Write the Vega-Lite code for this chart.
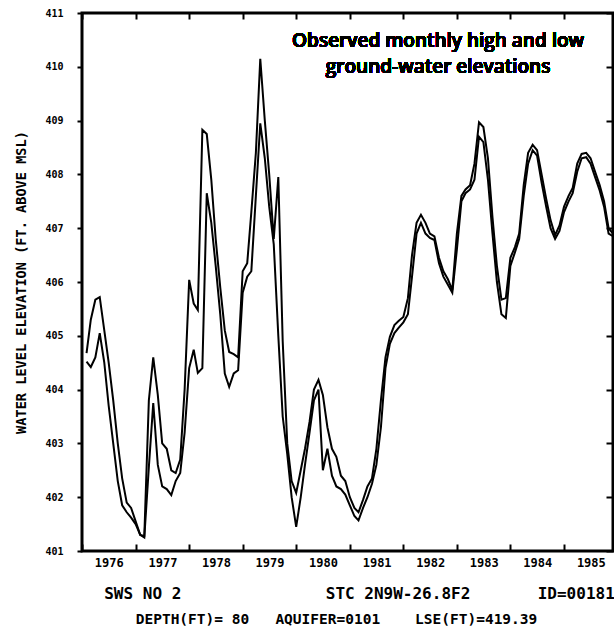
{
  "$schema": "https://vega.github.io/schema/vega-lite/v6.json",
  "width": 531,
  "height": 538,
  "autosize": {"type": "none"},
  "padding": {"left": 82, "top": 13, "right": 1, "bottom": 79},
  "background": "white",
  "config": {"view": {"stroke": "black", "strokeWidth": 3}},
  "title": {
    "text": "\u2800\u2800SWS NO 2\u00a0\u00a0\u00a0\u00a0\u00a0\u00a0\u00a0\u00a0\u00a0\u00a0\u00a0\u00a0\u00a0\u00a0\u00a0STC 2N9W-26.8F2\u00a0\u00a0\u00a0\u00a0\u00a0\u00a0\u00a0ID=00181",
    "subtitle": "DEPTH(FT)=\u00a080\u00a0\u00a0\u00a0AQUIFER=0101\u00a0\u00a0\u00a0\u00a0LSE(FT)=419.39\u2800\u2800",
    "orient": "bottom",
    "anchor": "middle",
    "font": "DejaVu Sans Mono",
    "fontSize": 16,
    "fontWeight": "bold",
    "color": "black",
    "subtitleFont": "DejaVu Sans Mono",
    "subtitleFontSize": 14.5,
    "subtitleFontWeight": "bold",
    "subtitleColor": "black",
    "subtitlePadding": 11,
    "offset": 18
  },
  "data": {
    "values": [
      {"date": "1976-02-01", "High": 404.68, "Low": 404.52},
      {"date": "1976-03-01", "High": 405.3, "Low": 404.42},
      {"date": "1976-04-01", "High": 405.67, "Low": 404.6},
      {"date": "1976-05-01", "High": 405.72, "Low": 405.05},
      {"date": "1976-06-01", "High": 405.1, "Low": 404.5},
      {"date": "1976-07-01", "High": 404.5, "Low": 403.7},
      {"date": "1976-08-01", "High": 403.8, "Low": 403.0},
      {"date": "1976-09-01", "High": 403.0, "Low": 402.3},
      {"date": "1976-10-01", "High": 402.35, "Low": 401.85},
      {"date": "1976-11-01", "High": 401.9, "Low": 401.72},
      {"date": "1976-12-01", "High": 401.8, "Low": 401.62},
      {"date": "1977-01-01", "High": 401.55, "Low": 401.5},
      {"date": "1977-02-01", "High": 401.3, "Low": 401.3},
      {"date": "1977-03-01", "High": 401.28, "Low": 401.25},
      {"date": "1977-04-01", "High": 403.8, "Low": 402.56},
      {"date": "1977-05-01", "High": 404.6, "Low": 403.75},
      {"date": "1977-06-01", "High": 403.9, "Low": 402.6},
      {"date": "1977-07-01", "High": 403.0, "Low": 402.2},
      {"date": "1977-08-01", "High": 402.9, "Low": 402.15},
      {"date": "1977-09-01", "High": 402.5, "Low": 402.04},
      {"date": "1977-10-01", "High": 402.45, "Low": 402.3},
      {"date": "1977-11-01", "High": 402.7, "Low": 402.45},
      {"date": "1977-12-01", "High": 404.0, "Low": 403.2},
      {"date": "1978-01-01", "High": 406.04, "Low": 404.4},
      {"date": "1978-02-01", "High": 405.6, "Low": 404.74},
      {"date": "1978-03-01", "High": 405.48, "Low": 404.31},
      {"date": "1978-04-01", "High": 408.83, "Low": 404.4},
      {"date": "1978-05-01", "High": 408.75, "Low": 407.65},
      {"date": "1978-06-01", "High": 407.9, "Low": 407.1},
      {"date": "1978-07-01", "High": 406.8, "Low": 406.3},
      {"date": "1978-08-01", "High": 405.9, "Low": 405.4},
      {"date": "1978-09-01", "High": 405.1, "Low": 404.3},
      {"date": "1978-10-01", "High": 404.7, "Low": 404.05},
      {"date": "1978-11-01", "High": 404.66, "Low": 404.3},
      {"date": "1978-12-01", "High": 404.6, "Low": 404.36},
      {"date": "1979-01-01", "High": 406.2, "Low": 405.8},
      {"date": "1979-02-01", "High": 406.35, "Low": 406.1},
      {"date": "1979-03-01", "High": 407.3, "Low": 406.2},
      {"date": "1979-04-01", "High": 408.4, "Low": 407.6},
      {"date": "1979-05-01", "High": 410.15, "Low": 408.95},
      {"date": "1979-06-01", "High": 409.0, "Low": 408.3},
      {"date": "1979-07-01", "High": 408.0, "Low": 407.4},
      {"date": "1979-08-01", "High": 406.8, "Low": 406.7},
      {"date": "1979-09-01", "High": 407.95, "Low": 405.0},
      {"date": "1979-10-01", "High": 404.9, "Low": 403.5},
      {"date": "1979-11-01", "High": 403.0, "Low": 402.8},
      {"date": "1979-12-01", "High": 402.3, "Low": 402.0},
      {"date": "1980-01-01", "High": 402.08, "Low": 401.45},
      {"date": "1980-02-01", "High": 402.5, "Low": 402.0},
      {"date": "1980-03-01", "High": 402.9, "Low": 402.6},
      {"date": "1980-04-01", "High": 403.4, "Low": 403.2},
      {"date": "1980-05-01", "High": 404.0, "Low": 403.8},
      {"date": "1980-06-01", "High": 404.18, "Low": 404.0},
      {"date": "1980-07-01", "High": 403.9, "Low": 402.5},
      {"date": "1980-08-01", "High": 403.3, "Low": 402.9},
      {"date": "1980-09-01", "High": 402.9, "Low": 402.4},
      {"date": "1980-10-01", "High": 402.75, "Low": 402.2},
      {"date": "1980-11-01", "High": 402.4, "Low": 402.15},
      {"date": "1980-12-01", "High": 402.3, "Low": 402.05},
      {"date": "1981-01-01", "High": 402.0, "Low": 401.85},
      {"date": "1981-02-01", "High": 401.8, "Low": 401.65},
      {"date": "1981-03-01", "High": 401.72, "Low": 401.57},
      {"date": "1981-04-01", "High": 401.95, "Low": 401.8},
      {"date": "1981-05-01", "High": 402.2, "Low": 402.0},
      {"date": "1981-06-01", "High": 402.35, "Low": 402.25},
      {"date": "1981-07-01", "High": 402.9, "Low": 402.6},
      {"date": "1981-08-01", "High": 403.8, "Low": 403.3},
      {"date": "1981-09-01", "High": 404.6, "Low": 404.4},
      {"date": "1981-10-01", "High": 404.98, "Low": 404.85},
      {"date": "1981-11-01", "High": 405.2, "Low": 405.05},
      {"date": "1981-12-01", "High": 405.28, "Low": 405.15},
      {"date": "1982-01-01", "High": 405.35, "Low": 405.25},
      {"date": "1982-02-01", "High": 405.7, "Low": 405.4},
      {"date": "1982-03-01", "High": 406.5, "Low": 406.1},
      {"date": "1982-04-01", "High": 407.1, "Low": 406.9},
      {"date": "1982-05-01", "High": 407.25, "Low": 407.1},
      {"date": "1982-06-01", "High": 407.1, "Low": 406.9},
      {"date": "1982-07-01", "High": 406.9, "Low": 406.82},
      {"date": "1982-08-01", "High": 406.85, "Low": 406.78},
      {"date": "1982-09-01", "High": 406.45, "Low": 406.35},
      {"date": "1982-10-01", "High": 406.2, "Low": 406.1},
      {"date": "1982-11-01", "High": 406.05, "Low": 405.95},
      {"date": "1982-12-01", "High": 405.85, "Low": 405.8},
      {"date": "1983-01-01", "High": 406.9, "Low": 406.6},
      {"date": "1983-02-01", "High": 407.6, "Low": 407.5},
      {"date": "1983-03-01", "High": 407.72, "Low": 407.65},
      {"date": "1983-04-01", "High": 407.8, "Low": 407.72},
      {"date": "1983-05-01", "High": 408.2, "Low": 407.9},
      {"date": "1983-06-01", "High": 408.97, "Low": 408.7},
      {"date": "1983-07-01", "High": 408.88, "Low": 408.6},
      {"date": "1983-08-01", "High": 408.3, "Low": 407.9},
      {"date": "1983-09-01", "High": 407.2, "Low": 406.9},
      {"date": "1983-10-01", "High": 406.3, "Low": 406.0},
      {"date": "1983-11-01", "High": 405.67, "Low": 405.4},
      {"date": "1983-12-01", "High": 405.7, "Low": 405.33},
      {"date": "1984-01-01", "High": 406.45, "Low": 406.3},
      {"date": "1984-02-01", "High": 406.65, "Low": 406.55},
      {"date": "1984-03-01", "High": 406.9, "Low": 406.8},
      {"date": "1984-04-01", "High": 407.8, "Low": 407.6},
      {"date": "1984-05-01", "High": 408.4, "Low": 408.2},
      {"date": "1984-06-01", "High": 408.55, "Low": 408.45},
      {"date": "1984-07-01", "High": 408.45, "Low": 408.35},
      {"date": "1984-08-01", "High": 408.0, "Low": 407.85},
      {"date": "1984-09-01", "High": 407.55, "Low": 407.4},
      {"date": "1984-10-01", "High": 407.15, "Low": 407.0},
      {"date": "1984-11-01", "High": 406.87, "Low": 406.8},
      {"date": "1984-12-01", "High": 407.05, "Low": 406.95},
      {"date": "1985-01-01", "High": 407.4, "Low": 407.3},
      {"date": "1985-02-01", "High": 407.6, "Low": 407.5},
      {"date": "1985-03-01", "High": 407.75, "Low": 407.65},
      {"date": "1985-04-01", "High": 408.2, "Low": 408.05},
      {"date": "1985-05-01", "High": 408.38, "Low": 408.3},
      {"date": "1985-06-01", "High": 408.4, "Low": 408.32},
      {"date": "1985-07-01", "High": 408.3, "Low": 408.2},
      {"date": "1985-08-01", "High": 408.05, "Low": 407.95},
      {"date": "1985-09-01", "High": 407.8, "Low": 407.7},
      {"date": "1985-10-01", "High": 407.5, "Low": 407.4},
      {"date": "1985-11-01", "High": 407.0, "Low": 406.9},
      {"date": "1985-12-01", "High": 406.9, "Low": 406.85}
    ],
    "format": {"parse": {"date": "utc:'%Y-%m-%d'"}}
  },
  "layer": [
    {
      "transform": [{"fold": ["High", "Low"], "as": ["series", "elevation"]}],
      "mark": {"type": "line", "color": "black", "strokeWidth": 2},
      "encoding": {
        "x": {
          "field": "date",
          "type": "temporal",
          "scale": {"type": "utc", "domain": [{"year": 1976, "month": 1, "date": 1, "utc": true}, {"year": 1985, "month": 12, "date": 1, "utc": true}], "nice": false},
          "axis": {
            "orient": "bottom",
            "offset": -7,
            "title": null,
            "tickCount": {"interval": "year", "step": 1},
            "format": "%Y",
            "labelOffset": 26.8,
            "labelOverlap": false,
            "labelFlush": false,
            "labelFont": "DejaVu Sans Mono",
            "labelFontSize": 12,
            "labelFontWeight": "bold",
            "labelColor": "black",
            "labelPadding": 6,
            "tickSize": 7,
            "tickWidth": 2,
            "tickColor": "black",
            "domain": false,
            "grid": false
          }
        },
        "y": {
          "field": "elevation",
          "type": "quantitative",
          "scale": {"domain": [401, 411], "nice": false, "zero": false},
          "axis": {
            "orient": "left",
            "title": "WATER LEVEL ELEVATION (FT. ABOVE MSL)",
            "titleFont": "DejaVu Sans Mono",
            "titleFontSize": 13.6,
            "titleFontWeight": "bold",
            "titleColor": "black",
            "titlePadding": 16,
            "values": [401, 402, 403, 404, 405, 406, 407, 408, 409, 410, 411],
            "format": "d",
            "labelFont": "DejaVu Sans Mono",
            "labelFontSize": 10,
            "labelFontWeight": "bold",
            "labelColor": "black",
            "labelPadding": 14,
            "tickSize": 5,
            "tickWidth": 2,
            "tickColor": "black",
            "domain": false,
            "grid": false
          }
        },
        "detail": {"field": "series", "type": "nominal"}
      }
    },
    {
      "mark": {
        "type": "text",
        "text": ["Observed monthly high and low", "ground-water elevations"],
        "font": "Open Sans",
        "fontSize": 19,
        "fontWeight": 600,
        "align": "center",
        "baseline": "alphabetic",
        "lineHeight": 26,
        "color": "black"
      },
      "encoding": {
        "x": {
          "datum": {"year": 1982, "month": 8, "date": 26, "utc": true},
          "type": "temporal",
          "axis": {
            "orient": "top",
            "offset": -6,
            "title": null,
            "labels": false,
            "tickCount": {"interval": "year", "step": 1},
            "tickSize": 6,
            "tickWidth": 2,
            "tickColor": "black",
            "domain": false,
            "grid": false
          }
        },
        "y": {
          "datum": 410.36,
          "type": "quantitative",
          "axis": {
            "orient": "right",
            "offset": -7,
            "title": null,
            "labels": false,
            "values": [401, 402, 403, 404, 405, 406, 407, 408, 409, 410, 411],
            "tickSize": 7,
            "tickWidth": 2,
            "tickColor": "black",
            "domain": false,
            "grid": false
          }
        }
      }
    }
  ],
  "resolve": {"axis": {"x": "independent", "y": "independent"}}
}
